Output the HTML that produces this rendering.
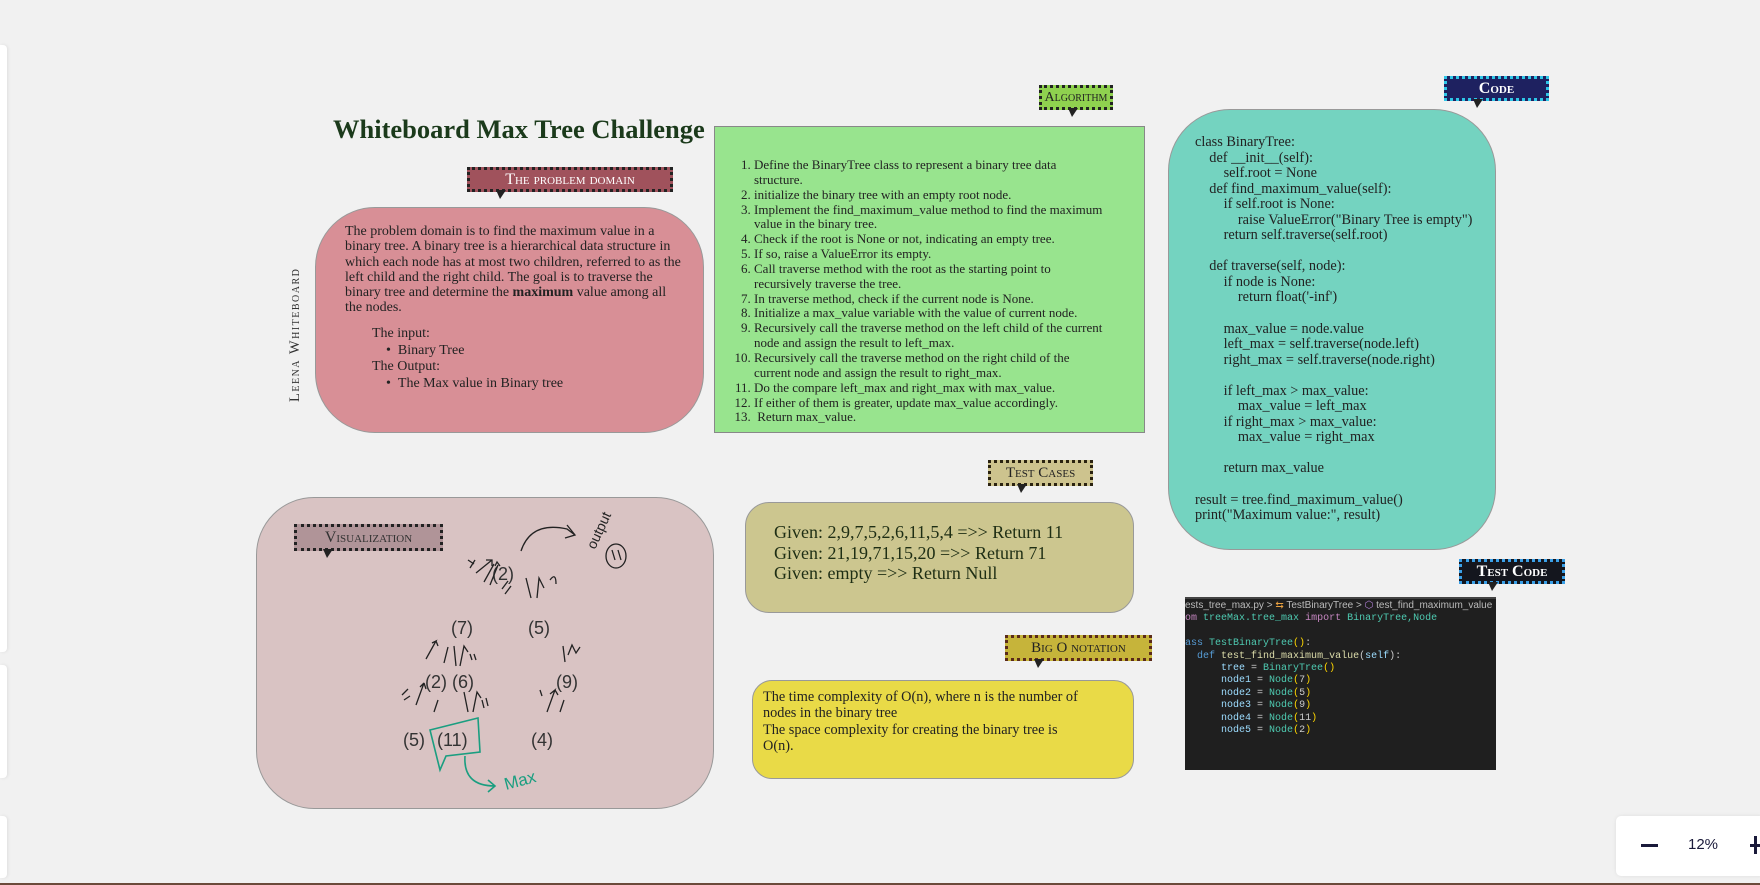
<!DOCTYPE html>
<html><head><meta charset="utf-8"><style>
*{margin:0;padding:0;box-sizing:border-box}
body{width:1760px;height:885px;background:#f1f1f1;position:relative;overflow:hidden;font-family:"Liberation Serif",serif}
.a{position:absolute}
.tab{position:absolute;left:0;width:7px;background:#fff;border-radius:0 4px 4px 0;box-shadow:1px 0 3px rgba(0,0,0,.08)}
.lbl{position:absolute;border:3px dotted #222;font-family:"Liberation Serif",serif;font-variant:small-caps;text-align:center;white-space:nowrap;overflow:visible}
.lbl:after{content:"";position:absolute;left:26px;bottom:-10px;border-left:4px solid transparent;border-right:6px solid transparent;border-top:9px solid #222}
.code{font-size:14.3px;line-height:15.55px;color:#222;white-space:pre}
ol{padding-left:40px}
</style></head><body>
<div class="tab" style="top:45px;height:607px"></div>
<div class="tab" style="top:665px;height:113px"></div>
<div class="tab" style="top:816px;height:62px"></div>
<div class="a" style="left:0;top:883px;width:1760px;height:2px;background:#6b4a3a"></div>

<div class="a" style="left:333px;top:114px;font-size:26.5px;font-weight:bold;color:#1b3a1b;white-space:nowrap">Whiteboard Max Tree Challenge</div>

<div class="a" style="left:287px;top:402px;transform:rotate(-90deg);transform-origin:0 0;font-size:14.5px;letter-spacing:1.5px;color:#333;font-variant:small-caps;white-space:nowrap">Leena Whiteboard</div>

<!-- problem domain -->
<div class="lbl" style="left:467px;top:167px;width:206px;height:25px;background:#a0525c;color:#fff;font-size:16px;line-height:19px">The problem domain</div>
<div class="a" style="left:315px;top:207px;width:389px;height:226px;background:#d88f96;border:1px solid #999;border-radius:60px"></div>
<div class="a" style="left:345px;top:224px;width:340px;font-size:14px;line-height:15.3px;color:#222">The problem domain is to find the maximum value in a binary tree. A binary tree is a hierarchical data structure in which each node has at most two children, referred to as the left child and the right child. The goal is to traverse the binary tree and determine the <b>maximum</b> value among all the nodes.</div>
<div class="a" style="left:372px;top:326px;font-size:14px;line-height:16.5px;color:#222">The input:<br>&nbsp;&nbsp;&nbsp;&nbsp;•&nbsp;&nbsp;Binary Tree<br>The Output:<br>&nbsp;&nbsp;&nbsp;&nbsp;•&nbsp;&nbsp;The Max value in Binary tree</div>

<!-- algorithm -->
<div class="lbl" style="left:1039px;top:85px;width:74px;height:25px;background:#8fd14f;color:#222;font-size:14px;line-height:19px">Algorithm</div>
<div class="a" style="left:714px;top:126px;width:431px;height:307px;background:#98e48e;border:1px solid #888"></div>
<div class="a" style="left:714px;top:158px;width:390px;font-size:13px;line-height:14.85px;color:#222">
<ol style="padding-left:40px">
<li>Define the BinaryTree class to represent a binary tree data structure.</li>
<li>initialize the binary tree with an empty root node.</li>
<li>Implement the find_maximum_value method to find the maximum value in the binary tree.</li>
<li>Check if the root is None or not, indicating an empty tree.</li>
<li>If so, raise a ValueError its empty.</li>
<li>Call traverse method with the root as the starting point to recursively traverse the tree.</li>
<li>In traverse method, check if the current node is None.</li>
<li>Initialize a max_value variable with the value of current node.</li>
<li>Recursively call the traverse method on the left child of the current node and assign the result to left_max.</li>
<li>Recursively call the traverse method on the right child of the current node and assign the result to right_max.</li>
<li>Do the compare left_max and right_max with max_value.</li>
<li>If either of them is greater, update max_value accordingly.</li>
<li>&nbsp;Return max_value.</li>
</ol></div>

<!-- code -->
<div class="lbl" style="left:1444px;top:76px;width:105px;height:25px;background:#1e2160;color:#fff;border-color:#2ec7e8;font-size:16px;line-height:19px;font-weight:bold">Code</div>
<div class="a" style="left:1168px;top:109px;width:328px;height:441px;background:#74d3c0;border:1px solid #999;border-radius:62px"></div>
<div class="a code" style="left:1195px;top:135px">class BinaryTree:
    def __init__(self):
        self.root = None
    def find_maximum_value(self):
        if self.root is None:
            raise ValueError("Binary Tree is empty")
        return self.traverse(self.root)

    def traverse(self, node):
        if node is None:
            return float('-inf')

        max_value = node.value
        left_max = self.traverse(node.left)
        right_max = self.traverse(node.right)

        if left_max &gt; max_value:
            max_value = left_max
        if right_max &gt; max_value:
            max_value = right_max

        return max_value

result = tree.find_maximum_value()
print("Maximum value:", result)</div>

<!-- test code -->
<div class="lbl" style="left:1459px;top:559px;width:106px;height:25px;background:#14161e;color:#fff;border-color:#3aa0e8;font-size:16px;line-height:19px;font-weight:bold">Test Code</div>
<div class="a" style="left:1185px;top:597px;width:311px;height:173px;background:#1f1f1f;border-top:2px solid #444;font-family:'Liberation Mono',monospace;font-size:10px;line-height:12.4px;color:#ccc;white-space:pre;overflow:hidden;padding-top:1px"><span style="font-family:'Liberation Sans';color:#bbb">ests_tree_max.py &gt; <span style="color:#e8a040">⇆</span> TestBinaryTree &gt; <span style="color:#b180d7">⬡</span> test_find_maximum_value</span>
<span style="color:#c586c0">om</span> <span style="color:#4ec9b0">treeMax.tree_max</span> <span style="color:#c586c0">import</span> <span style="color:#4ec9b0">BinaryTree,Node</span>

<span style="color:#569cd6">ass</span> <span style="color:#4ec9b0">TestBinaryTree</span><span style="color:#ffd700">()</span>:
  <span style="color:#569cd6">def</span> <span style="color:#dcdcaa">test_find_maximum_value</span>(<span style="color:#9cdcfe">self</span>):
      <span style="color:#9cdcfe">tree</span> = <span style="color:#4ec9b0">BinaryTree</span><span style="color:#ffd700">()</span>
      <span style="color:#9cdcfe">node1</span> = <span style="color:#4ec9b0">Node</span><span style="color:#ffd700">(</span>7<span style="color:#ffd700">)</span>
      <span style="color:#9cdcfe">node2</span> = <span style="color:#4ec9b0">Node</span><span style="color:#ffd700">(</span>5<span style="color:#ffd700">)</span>
      <span style="color:#9cdcfe">node3</span> = <span style="color:#4ec9b0">Node</span><span style="color:#ffd700">(</span>9<span style="color:#ffd700">)</span>
      <span style="color:#9cdcfe">node4</span> = <span style="color:#4ec9b0">Node</span><span style="color:#ffd700">(</span>11<span style="color:#ffd700">)</span>
      <span style="color:#9cdcfe">node5</span> = <span style="color:#4ec9b0">Node</span><span style="color:#ffd700">(</span>2<span style="color:#ffd700">)</span></div>

<!-- visualization -->
<div class="a" style="left:256px;top:497px;width:458px;height:312px;background:#d9c3c3;border:1px solid #999;border-radius:58px"></div>
<div class="lbl" style="left:294px;top:524px;width:149px;height:27px;background:#b09498;color:#333;font-size:16px;line-height:21px">Visualization</div>
<svg class="a" style="left:256px;top:497px" width="458" height="312" viewBox="256 497 458 312">
<g font-family="Liberation Sans, sans-serif" font-size="18" fill="#333">
<text x="492" y="580">(2)</text>
<text x="451" y="634">(7)</text>
<text x="528" y="634">(5)</text>
<text x="425" y="688">(2) (6)</text>
<text x="556" y="688">(9)</text>
<text x="403" y="746">(5)</text>
<text x="437" y="746">(11)</text>
<text x="531" y="746">(4)</text>
</g>
<g stroke="#222" stroke-width="1.3" fill="none">
<path d="M476 573 L492 560 M486 560 L492 560 L492 566"/><path d="M470 568l5 -8 M468 560l6 4"/>
<path d="M484 582l10 -18 M490 585l8 -20 M495 566l2 -4 l3 4"/>
<path d="M502 589l6 -8 M505 594l6 -8"/>
<path d="M531 598l-5 -20 M537 598l2 -20 l5 10"/><path d="M550 580q6 -8 6 4"/>
<path d="M426 659l10 -18 l-4 2 M436 641l2 5"/>
<path d="M444 663l4 -16 M456 666l-2 -20 M460 666l4 -20 l4 6"/><path d="M472 660l-2 -6 M476 660l-2 -6"/>
<path d="M565 662l-2 -16 M568 655l4 -10 l4 8 l4 -6"/>
<path d="M416 705l8 -22 l-4 4 M424 683l2 6"/><path d="M402 695l6 -6 M404 700l6 -4"/>
<path d="M434 712l4 -12"/>
<path d="M468 712l-4 -20 M473 712l4 -20 l4 6"/><path d="M484 708l-2 -8 M488 706l-2 -8"/>
<path d="M547 712l8 -22 l-5 4 M555 690l3 5 M560 712l4 -12"/><path d="M540 690l2 6"/>
<path d="M521 551 q10 -30 46 -22 l8 6 M567 525l8 10 l-10 3"/>
<text x="595" y="550" font-family="Liberation Sans" font-size="14" fill="#222" stroke="none" transform="rotate(-65 595 550)">output</text>
<ellipse cx="616" cy="556" rx="10" ry="12"/>
<path d="M612 550l3 10 M618 550l3 10"/>
</g>
<g stroke="#1a9e80" stroke-width="1.6" fill="none">
<path d="M430 730 L478 718 L480 752 L446 756 L440 770 Z"/>
<path d="M465 756 q-2 30 30 30 M488 780l7 6 l-7 6"/>
</g>
<text x="506" y="790" font-family="Liberation Sans" font-size="17" fill="#1a9e80" transform="rotate(-15 506 790)">Max</text>
</svg>

<!-- test cases -->
<div class="lbl" style="left:988px;top:460px;width:105px;height:26px;background:#cdc38e;color:#222;border-color:#2a2210;font-size:15px;line-height:20px">Test Cases</div>
<div class="a" style="left:745px;top:502px;width:389px;height:111px;background:#ccc68f;border:1px solid #999;border-radius:24px"></div>
<div class="a" style="left:774px;top:522px;font-size:18px;line-height:20.5px;color:#1e2e14">Given: 2,9,7,5,2,6,11,5,4 =&gt;&gt; Return 11<br>Given: 21,19,71,15,20 =&gt;&gt; Return 71<br>Given: empty =&gt;&gt; Return Null</div>

<!-- big O -->
<div class="lbl" style="left:1005px;top:635px;width:147px;height:26px;background:#c6b43a;color:#222;border-color:#5a2a1a;font-size:15px;line-height:20px">Big O notation</div>
<div class="a" style="left:752px;top:680px;width:382px;height:99px;background:#e9da47;border:1px solid #999;border-radius:20px"></div>
<div class="a" style="left:763px;top:689px;width:322px;font-size:14.3px;line-height:16.3px;color:#222">The time complexity of O(n), where n is the number of nodes in the binary tree<br>The space complexity for creating the binary tree is O(n).</div>

<!-- zoom control -->
<div class="a" style="left:1616px;top:816px;width:150px;height:60px;background:#fff;border-radius:5px;box-shadow:0 0 4px rgba(0,0,0,.08)"></div>
<div class="a" style="left:1641px;top:844px;width:17px;height:3px;background:#1a1a3a"></div>
<div class="a" style="left:1688px;top:836px;font-family:'Liberation Sans',sans-serif;font-size:15px;color:#1a1a3a">12%</div>
<div class="a" style="left:1750px;top:844px;width:12px;height:3px;background:#1a1a3a"></div>
<div class="a" style="left:1754px;top:836px;width:3px;height:18px;background:#1a1a3a"></div>
</body></html>
